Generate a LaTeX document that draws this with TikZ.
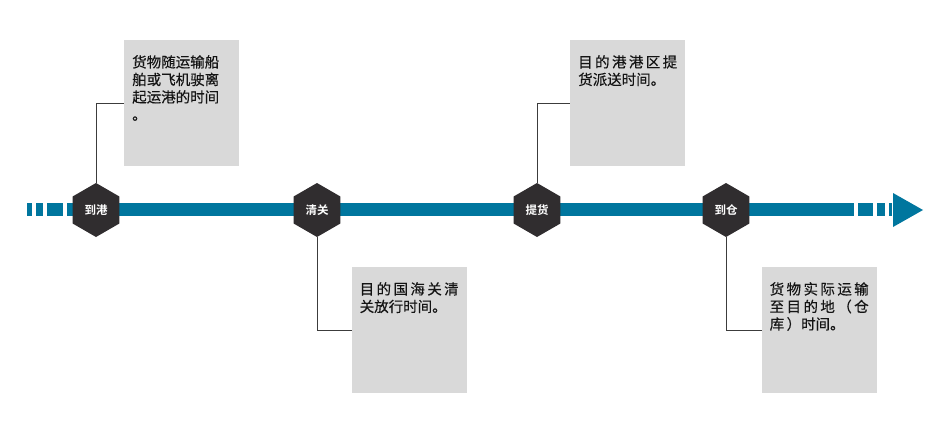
\documentclass[tikz,border=0pt]{standalone}
\usepackage{fontspec}
\newfontfamily\cjk{Noto Sans CJK SC}[BoldFont={Noto Sans CJK SC Bold}]
\newfontfamily\cjktext{Noto Sans CJK SC}[FakeBold=0.3]
\usetikzlibrary{shapes.geometric,calc}
\definecolor{barblue}{RGB}{0,118,158}
\definecolor{hexgray}{RGB}{48,45,47}
\definecolor{boxgray}{RGB}{217,217,217}
\definecolor{txt}{RGB}{20,20,20}
\definecolor{conn}{RGB}{60,60,60}
\newcommand{\jl}[1]{\makebox[99pt][s]{#1}}
\begin{document}
\begin{tikzpicture}[x=1pt,y=-1pt,
  hexnode/.style={regular polygon, regular polygon sides=6, shape border rotate=30,
    minimum size=54pt, inner sep=0pt, outer sep=0pt, fill=hexgray,
    text=white, font=\cjk\bfseries\fontsize{11.5}{12}\selectfont},
  infobox/.style={rectangle, fill=boxgray, minimum width=115pt, minimum height=126pt,
    inner sep=0pt, outer sep=0pt},
  infotext/.style={anchor=north west, inner sep=0pt, align=left, text=txt,
    font=\cjktext\fontsize{14.5}{17.5}\selectfont},
  connector/.style={draw=conn, line width=0.9pt}]
\useasboundingbox (0,0) rectangle (949,423);
\fill[white] (0,0) rectangle (949,423);
% timeline bar
\fill[barblue] (27,203) rectangle (32,216);
\fill[barblue] (36,203) rectangle (43,216);
\fill[barblue] (47,203) rectangle (63,216);
\fill[barblue] (67,203) rectangle (854,216);
\fill[barblue] (858,203) rectangle (873,216);
\fill[barblue] (877,203) rectangle (885,216);
\fill[barblue] (889,203) rectangle (892,216);
\fill[barblue] (893,193) -- (923,210) -- (893,227) -- cycle;
% hexagons
\node[hexnode] (h1) at (96,210) {到港};
\node[hexnode] (h2) at (317,210) {清关};
\node[hexnode] (h3) at (537,210) {提货};
\node[hexnode] (h4) at (726,210) {到仓};
% boxes
\node[infobox] (b1) at (181.5,103) {};
\node[infobox] (b2) at (409,330) {};
\node[infobox] (b3) at (627.5,103) {};
\node[infobox] (b4) at (819,330) {};
% texts
\node[infotext] (t1) at ($(b1.north west)+(8,15)$) {货物随运输船\\舶或飞机驶离\\起运港的时间\\。};
\node[infotext] (t2) at ($(b2.north west)+(8,15)$) {\jl{目\hfil{}的\hfil{}国\hfil{}海\hfil{}关\hfil{}清}\\关放行时间。};
\node[infotext] (t3) at ($(b3.north west)+(8,15)$) {\jl{目\hfil{}的\hfil{}港\hfil{}港\hfil{}区\hfil{}提}\\货派送时间。};
\node[infotext] (t4) at ($(b4.north west)+(8,15)$) {\jl{货\hfil{}物\hfil{}实\hfil{}际\hfil{}运\hfil{}输}\\\jl{至\hfil{}目\hfil{}的\hfil{}地\hfil{}（\hfil{}仓}\\库\,）时间。};
% connectors
\draw[connector] (h1.north) |- (b1.west);
\draw[connector] (h2.south) |- (b2.west);
\draw[connector] (h3.north) |- (b3.west);
\draw[connector] (h4.south) |- (b4.west);
\end{tikzpicture}
\end{document}
